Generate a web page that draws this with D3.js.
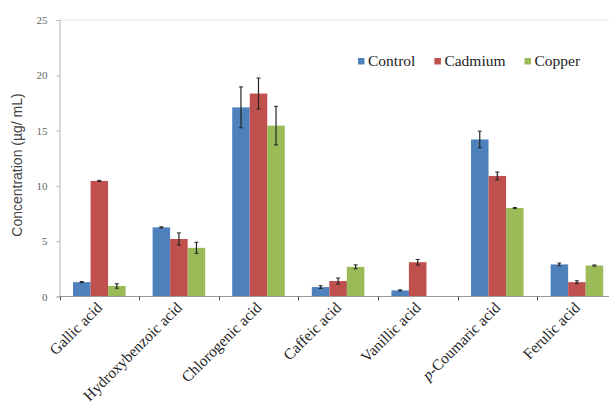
<!DOCTYPE html>
<html>
<head>
<meta charset="utf-8">
<script src="https://cdn.jsdelivr.net/npm/d3@7"></script>
<style>
  html, body { margin: 0; padding: 0; background: #fff; }
  svg { display: block; }
  .serif { font-family: "Liberation Serif", "Times New Roman", Times, "DejaVu Serif", serif; }
  .sans { font-family: "Liberation Sans", Arial, "DejaVu Sans", sans-serif; }
</style>
</head>
<body>
<script>
const categories = ["Gallic acid", "Hydroxybenzoic acid", "Chlorogenic acid", "Caffeic acid", "Vanillic acid", "p-Coumaric acid", "Ferulic acid"];
const seriesNames = ["Control", "Cadmium", "Copper"];
const controlValues = [1.3, 6.25, 17.1, 0.85, 0.55, 14.2, 2.9];
const cadmiumValues = [10.45, 5.2, 18.35, 1.4, 3.1, 10.9, 1.3];
const copperValues = [0.95, 4.4, 15.45, 2.68, 0, 8.0, 2.8];
const controlErrors = [0.05, 0.05, 1.85, 0.12, 0.05, 0.75, 0.12];
const cadmiumErrors = [0.05, 0.55, 1.4, 0.27, 0.25, 0.35, 0.12];
const copperErrors = [0.2, 0.5, 1.75, 0.18, 0, 0.05, 0.05];
const yTicks = [0, 5, 10, 15, 20, 25];
const colors = ["#4F81BD", "#C0504D", "#9BBB59"];

const W = 609, H = 407;
const margin = { left: 59.5, top: 20, bottom: 296.5 };
const plotRight = 616.7;

const svg = d3.select("body").append("svg").attr("width", W).attr("height", H);

const x0 = d3.scaleBand().domain(categories).range([margin.left, plotRight]).paddingInner(0).paddingOuter(0);
const x1 = d3.scaleBand().domain(seriesNames).range([0, x0.bandwidth()]).paddingInner(0).paddingOuter(0.77);
const y = d3.scaleLinear().domain([0, 25]).range([margin.bottom, margin.top]);
const color = d3.scaleOrdinal().domain(seriesNames).range(colors);

const valuesBySeries = [controlValues, cadmiumValues, copperValues];
const errorsBySeries = [controlErrors, cadmiumErrors, copperErrors];
const rows = [];
categories.forEach((c, i) => {
  seriesNames.forEach((s, j) => {
    rows.push({ cat: c, series: s, value: valuesBySeries[j][i], err: errorsBySeries[j][i] });
  });
});

// top frame line
svg.append("line")
  .attr("x1", margin.left).attr("x2", W)
  .attr("y1", y(25)).attr("y2", y(25))
  .attr("stroke", "#e2e2e2").attr("stroke-width", 1);

// y axis
const yAxis = svg.append("g")
  .attr("transform", `translate(${margin.left},0)`)
  .call(d3.axisLeft(y).tickValues(yTicks).tickSize(3).tickPadding(9).tickFormat(d3.format("d")));
yAxis.attr("font-family", null).attr("font-size", null);
yAxis.select(".domain").attr("stroke", "#b5b5b5");
yAxis.selectAll(".tick line").attr("stroke", "#b5b5b5");
yAxis.selectAll(".tick text")
  .attr("class", "serif")
  .style("font-size", "11px").attr("fill", "#666");

// bars
svg.append("g").selectAll("rect").data(rows).join("rect")
  .attr("x", d => x0(d.cat) + x1(d.series))
  .attr("width", x1.bandwidth())
  .attr("y", d => y(d.value))
  .attr("height", d => y(0) - y(d.value))
  .attr("fill", d => color(d.series));

// error bars
const eb = svg.append("g").selectAll("g").data(rows.filter(d => d.value > 0)).join("g")
  .attr("transform", d => `translate(${x0(d.cat) + x1(d.series) + x1.bandwidth() / 2},0)`);
eb.append("line")
  .attr("x1", 0).attr("x2", 0)
  .attr("y1", d => y(d.value - d.err)).attr("y2", d => y(d.value + d.err))
  .attr("stroke", "#222").attr("stroke-width", 1.2);
eb.append("line")
  .attr("x1", -2).attr("x2", 2)
  .attr("y1", d => y(d.value + d.err)).attr("y2", d => y(d.value + d.err))
  .attr("stroke", "#222").attr("stroke-width", 1);
eb.append("line")
  .attr("x1", -2).attr("x2", 2)
  .attr("y1", d => y(d.value - d.err)).attr("y2", d => y(d.value - d.err))
  .attr("stroke", "#222").attr("stroke-width", 1);

// x axis
const xAxisG = svg.append("g").attr("transform", `translate(0,${y(0)})`);
xAxisG.append("line")
  .attr("x1", margin.left).attr("x2", plotRight)
  .attr("stroke", "#9a9a9a").attr("stroke-width", 1);
xAxisG.selectAll("line.tk").data(categories).join("line").attr("class", "tk")
  .attr("x1", d => Math.round(x0(d)) + 0.5).attr("x2", d => Math.round(x0(d)) + 0.5)
  .attr("y1", 0).attr("y2", 4)
  .attr("stroke", "#555").attr("stroke-width", 1);

const labels = xAxisG.selectAll("text.cl").data(categories).join("text").attr("class", "cl serif")
  .attr("transform", d => `translate(${x0(d) + x0.bandwidth() / 2 + 4},${12}) rotate(-45)`)
  .attr("text-anchor", "end")
  .style("font-size", "15.4px").attr("fill", "#222");
labels.each(function (d) {
  const t = d3.select(this);
  if (d.startsWith("p-")) {
    t.append("tspan").style("font-style", "italic").text("p");
    t.append("tspan").text(d.slice(1));
  } else {
    t.text(d);
  }
});

// y axis title
svg.append("text")
  .attr("class", "sans")
  .attr("transform", `translate(22,165) rotate(-90)`)
  .attr("text-anchor", "middle")
  .style("font-size", "14px").attr("fill", "#444")
  .text("Concentration (µg/ mL)");

// legend
const legend = svg.append("g");
let lx = 358;
seriesNames.forEach(s => {
  const g = legend.append("g").attr("transform", `translate(${lx},0)`);
  g.append("rect").attr("x", 0).attr("y", 58).attr("width", 6.5).attr("height", 6.5).attr("fill", color(s));
  const t = g.append("text").attr("class", "serif").attr("x", 10).attr("y", 65.5)
    .style("font-size", "15.5px").attr("fill", "#222").text(s);
  lx += 10 + t.node().getComputedTextLength() + 19;
});
</script>
</body>
</html>
